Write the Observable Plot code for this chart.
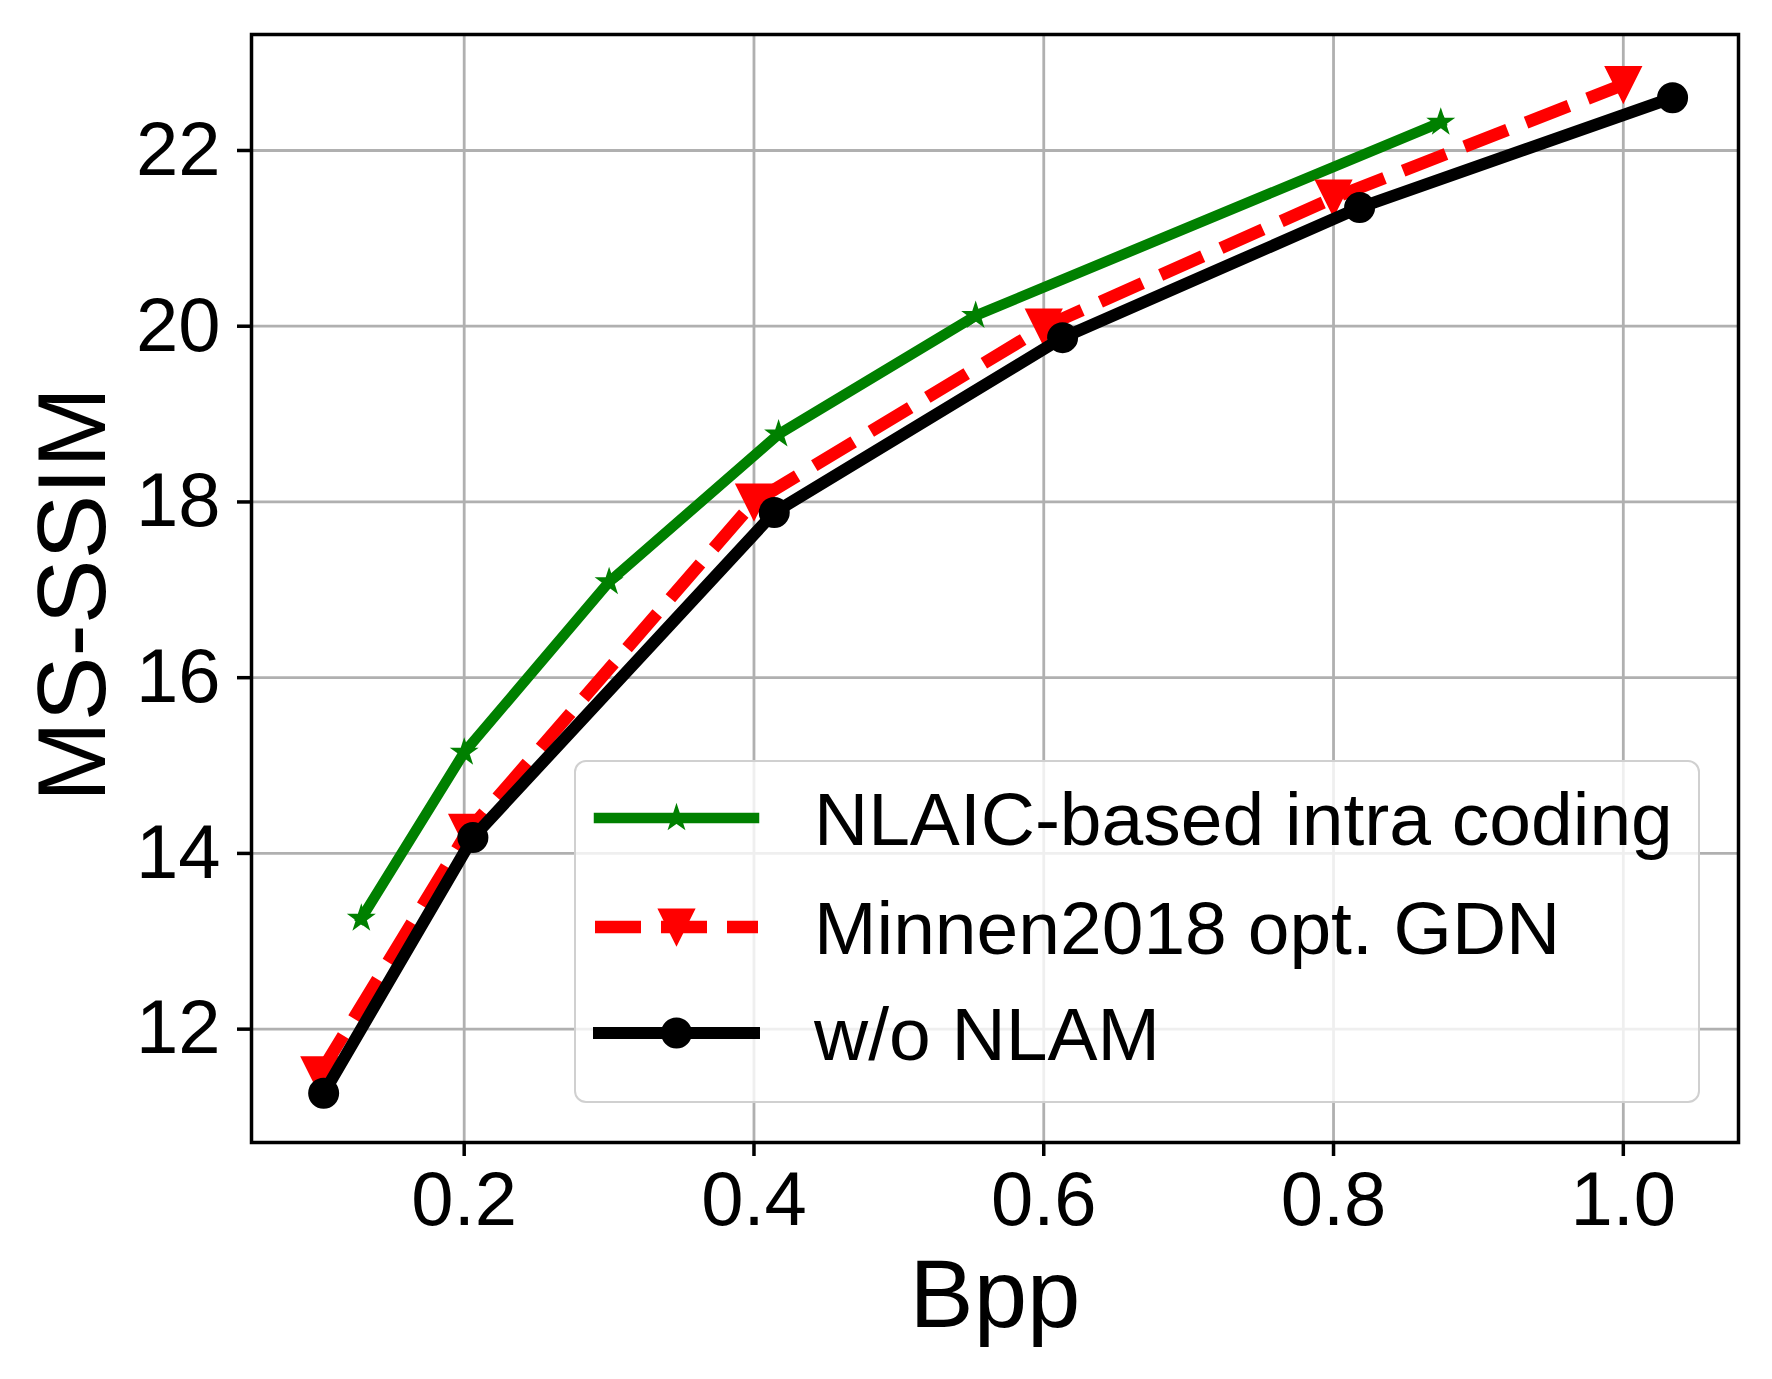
<!DOCTYPE html>
<html>
<head>
<meta charset="utf-8">
<script src="https://cdn.jsdelivr.net/npm/d3@7"></script>
<script src="https://cdn.jsdelivr.net/npm/@observablehq/plot@0.6"></script>
<style>
  html, body { margin: 0; padding: 0; background: white; }
  #wrap { position: relative; width: 1772px; height: 1379px; font-family: "Liberation Sans", Arial, Helvetica, sans-serif; }
  #legend { position: absolute; left: 574px; top: 760px; width: 1126px; height: 343px; box-sizing: border-box;
            border: 2.5px solid #d0d0d0; border-radius: 12px; background: rgba(255,255,255,0.8); }
  #legend svg { position: absolute; left: -2.5px; top: -2.5px; }
</style>
</head>
<body>
<div id="wrap"></div>
<script>
// ---- data ----
const seriesNames = ["NLAIC-based intra coding", "Minnen2018 opt. GDN", "w/o NLAM"];
const xGreen = [0.129, 0.200, 0.300, 0.417, 0.553, 0.874];
const yGreen = [13.26, 15.15, 17.09, 18.77, 20.12, 22.32];
const xRed   = [0.100, 0.202, 0.400, 0.600, 0.800, 1.000];
const yRed   = [11.48, 14.24, 18.00, 19.99, 21.46, 22.75];
const xBlack = [0.103, 0.206, 0.414, 0.613, 0.818, 1.034];
const yBlack = [11.27, 14.18, 17.88, 19.87, 21.35, 22.60];
const xTicks = [0.2, 0.4, 0.6, 0.8, 1.0];
const yTicks = [12, 14, 16, 18, 20, 22];
const xLabel = "Bpp";
const yLabel = "MS-SSIM";

const toRows = (xs, ys) => xs.map((x, i) => ({x, y: ys[i]}));
const green = toRows(xGreen, yGreen);
const red = toRows(xRed, yRed);
const black = toRows(xBlack, yBlack);

// ---- custom marker symbols (matplotlib-like) ----
const starSymbol = {
  draw(ctx, size) {
    const R = Math.sqrt(size / Math.PI), r = R * 0.381966;
    for (let i = 0; i < 10; i++) {
      const a = -Math.PI / 2 + i * Math.PI / 5, rr = i % 2 ? r : R;
      const px = rr * Math.cos(a), py = rr * Math.sin(a);
      i ? ctx.lineTo(px, py) : ctx.moveTo(px, py);
    }
    ctx.closePath();
  }
};
const triDownSymbol = {
  draw(ctx, size) {
    const R = Math.sqrt(size / Math.PI);
    ctx.moveTo(-R, -R); ctx.lineTo(R, -R); ctx.lineTo(0, R); ctx.closePath();
  }
};
const circleSymbol = {
  draw(ctx, size) {
    const R = Math.sqrt(size / Math.PI);
    ctx.moveTo(R, 0); ctx.arc(0, 0, R, 0, 2 * Math.PI); ctx.closePath();
  }
};

const FONT = "Liberation Sans, Arial, Helvetica, sans-serif";
const styles = [
  {color: "#008000", symbol: starSymbol, r: 12, dash: null, lw: 10.5},
  {color: "#ff0000", symbol: triDownSymbol, r: 17.5, dash: "46,20", lw: 12.5},
  {color: "#000000", symbol: circleSymbol, r: 14.5, dash: null, lw: 12}
];

const chart = Plot.plot({
  width: 1772,
  height: 1379,
  marginLeft: 251,
  marginRight: 34,
  marginTop: 34,
  marginBottom: 237,
  style: {fontFamily: FONT, background: "white", overflow: "visible"},
  x: {domain: [0.0532, 1.0795]},
  y: {domain: [10.71, 23.32]},
  marks: [
    Plot.gridX(xTicks, {stroke: "#b0b0b0", strokeOpacity: 1, strokeWidth: 2.8}),
    Plot.gridY(yTicks, {stroke: "#b0b0b0", strokeOpacity: 1, strokeWidth: 2.8}),
    ...[green, red, black].flatMap((d, i) => [
      Plot.line(d, {x: "x", y: "y", stroke: styles[i].color, strokeWidth: styles[i].lw,
        strokeDasharray: styles[i].dash, strokeLinejoin: "round",
        strokeLinecap: styles[i].dash ? "butt" : "square"}),
      Plot.dot(d, {x: "x", y: "y", symbol: styles[i].symbol, r: styles[i].r,
        fill: styles[i].color, stroke: styles[i].color, strokeWidth: 2})
    ]),
    Plot.frame({stroke: "black", strokeWidth: 3.5}),
    Plot.axisX(xTicks, {tickFormat: d3.format(".1f"), tickSize: 14, tickPadding: 15,
      fontSize: 76, strokeWidth: 3.5, stroke: "black", fill: "black", label: null}),
    Plot.axisY(yTicks, {tickFormat: d3.format("d"), tickSize: 14, tickPadding: 17,
      fontSize: 76, strokeWidth: 3.5, stroke: "black", fill: "black", label: null}),
    Plot.text([xLabel], {frameAnchor: "bottom", text: d => d, dy: 116, lineAnchor: "top",
      textAnchor: "middle", fontSize: 96, fill: "black"}),
    Plot.text([yLabel], {frameAnchor: "left", text: d => d, rotate: -90, dx: -178, dy: 6,
      textAnchor: "middle", lineAnchor: "middle", fontSize: 97, fill: "black"})
  ]
});

const wrap = document.getElementById("wrap");
wrap.appendChild(chart);

// ---- legend (inside the axes, like matplotlib) ----
const legend = document.createElement("div");
legend.id = "legend";
wrap.appendChild(legend);
const lsvg = d3.select(legend).append("svg").attr("width", 1126).attr("height", 343)
  .style("font-family", FONT);
const rowsY = [58, 167, 273];
const x0 = 25, x1 = 180, xm = (x0 + x1) / 2;
seriesNames.forEach((name, i) => {
  const s = styles[i], y = rowsY[i];
  lsvg.append("line").attr("x1", s.dash ? x0 - 4 : x0).attr("x2", s.dash ? x1 + 4 : x1)
    .attr("y1", y).attr("y2", y)
    .attr("stroke", s.color).attr("stroke-width", s.lw)
    .attr("stroke-dasharray", s.dash)
    .attr("stroke-linecap", s.dash ? "butt" : "square");
  lsvg.append("path")
    .attr("d", d3.symbol().type(s.symbol).size(s.r * s.r * Math.PI)())
    .attr("transform", `translate(${xm},${y})`)
    .attr("fill", s.color).attr("stroke", s.color).attr("stroke-width", 2);
  lsvg.append("text").attr("x", 240).attr("y", y + 27)
    .attr("font-size", 75).attr("fill", "black").text(name);
});
</script>
</body>
</html>
